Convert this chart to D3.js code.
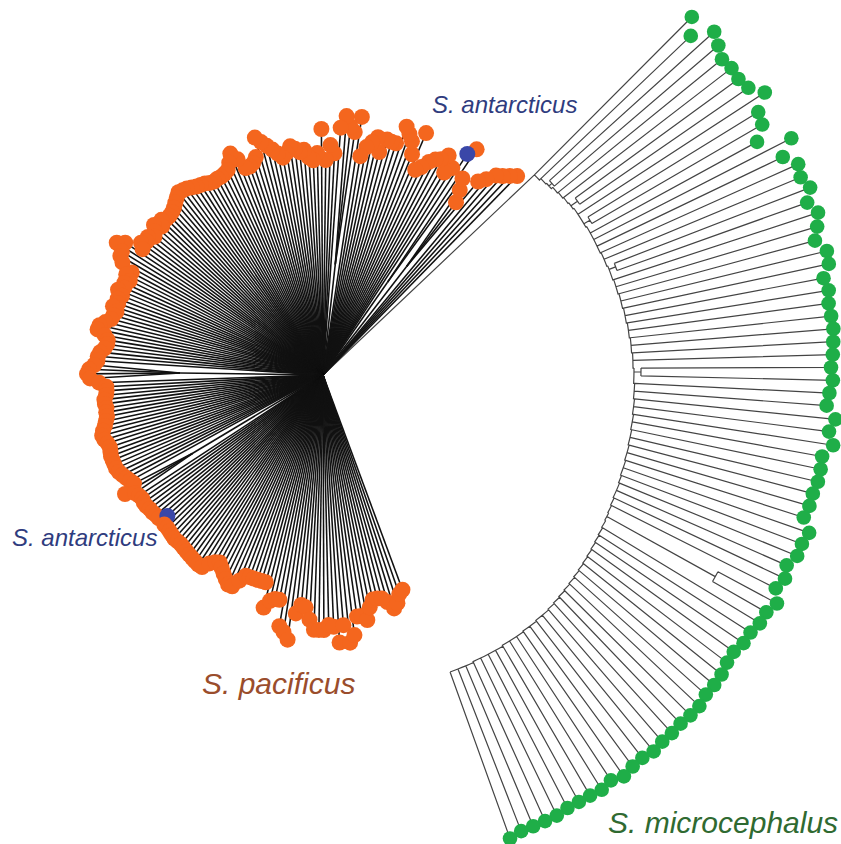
<!DOCTYPE html>
<html>
<head>
<meta charset="utf-8">
<script src="https://cdn.jsdelivr.net/npm/d3@7"></script>
<style>
  body { margin: 0; background: #fff; }
  text { font-family: "Liberation Sans", Arial, sans-serif; font-style: italic; }
</style>
</head>
<body>
<div id="chart"></div>
<script>
// orange clade (S. pacificus + 2 S. antarcticus): tip distance from the fan node, tips in angular order
const orangeTipR = [
  278, 273, 268, 264, 255, 248, 218, 230, 241, 273,
  264, 244, 236, 253, 246, 243, 238, 230, 225, 263,
  238, 250, 256, 262, 243, 243, 244, 230, 244, 238,
  232, 222, 261, 245, 250, 260, 248, 222, 230, 215,
  246, 222, 215, 218, 226, 224, 228, 231, 225, 221,
  226, 231, 236, 241, 247, 228, 223, 221, 221, 232,
  240, 232, 226, 224, 223, 223, 222, 223, 225, 226,
  227, 229, 231, 232, 233, 230, 227, 224, 222, 221,
  221, 224, 219, 226, 221, 218, 223, 221, 225, 220,
  238, 245, 236, 235, 230, 217, 221, 215, 219, 217,
  222, 216, 219, 217, 221, 216, 218, 219, 224, 229,
  230, 222, 218, 218, 220, 224, 226, 226, 229, 234,
  236, 233, 224, 217, 217, 218, 220, 220, 219, 220,
  220, 222, 224, 227, 229, 228, 226, 225, 226, 227,
  227, 227, 227, 226, 224, 222, 220, 218, 231, 222,
  220, 219, 220, 220, 219, 219, 218, 218, 210, 218,
  218, 219, 220, 221, 221, 221, 222, 223, 224, 225,
  226, 227, 227, 220, 216, 214, 218, 222, 226, 230,
  230, 222, 215, 215, 215, 215, 215, 215, 240, 232,
  229, 229, 255, 260, 267, 240, 231, 233, 245, 255,
  255, 255, 250, 252, 268, 251, 269, 262, 244, 244,
  249, 237, 230, 230, 231, 236, 244, 240, 232, 229
];
// tips of the orange fan that are S. antarcticus (blue)
const orangeBlueTips = [10, 158];
// small nested clades inside the fan: [first tip, tip count, node distance]
const orangeClades = [[5, 3, 137], [8, 2, 113], [33, 3, 111], [118, 4, 143], [147, 3, 152]];

// green clade (S. microcephalus): tip distance and backbone node distance
const greenTipR = [
  497, 483, 503, 497, 491, 493, 492, 495, 506, 490,
  487, 474, 506, 490, 501, 498, 503, 495, 502, 497,
  491, 500, 499, 491, 494, 492, 493, 494, 493, 492,
  490, 492, 489, 487, 497, 492, 498, 489, 490, 490,
  488, 488, 486, 496, 493, 493, 487, 491, 487, 495,
  490, 490, 487, 487, 484, 485, 488, 489, 489, 492,
  492, 491, 492, 492, 494, 492, 493, 496, 492, 495,
  494, 494, 494, 496, 496, 496, 496, 499
];
const greenNodeR = [
  274, 276, 277, 279, 280, 281, 282, 283, 283, 283,
  284, 284, 284, 284, 285, 285, 286, 286, 287, 287,
  288, 288, 289, 289, 290, 290, 291, 291, 292, 292,
  293, 293, 294, 294, 295, 295, 296, 296, 297, 297,
  298, 298, 299, 299, 300, 301, 301, 302, 303, 304,
  305, 306, 307, 308, 309, 310, 311, 312, 313, 314,
  315, 316, 317, 318, 318, 319, 319, 320, 320, 320,
  321, 321, 321, 321, 322, 322, 322, 322
];
// pairs of green tips joined above the backbone: [first tip, node distance]
const greenPairs = [[2, 281], [6, 290], [9, 290], [16, 293], [30, 300], [49, 428]];

const labels = [
  { text: "S. antarcticus", x: 432, y: 113, size: 24, color: "#2f3c7e" },
  { text: "S. antarcticus", x: 12, y: 546, size: 24, color: "#2f3c7e" },
  { text: "S. pacificus", x: 202, y: 694, size: 30, color: "#9a4d2c" },
  { text: "S. microcephalus", x: 608, y: 833, size: 30, color: "#2f6a31" }
];

const width = 841;
const height = 844;
const orangeCenter = [323, 375];
const greenCenter = [341, 369];
const deg = Math.PI / 180;

const svg = d3.select("#chart")
  .append("svg")
  .attr("width", width)
  .attr("height", height);

const rScale = d3.scaleLinear().domain([0, 500]).range([0, 500]);
const orangeAngle = d3.scaleLinear()
  .domain([0, orangeTipR.length - 1])
  .range([-45.7, -290.3]);
const greenAngle = d3.scaleLinear()
  .domain([0, greenTipR.length - 1])
  .range([-45.1, 70.2]);

function polar(c, angle, r) {
  const p = d3.pointRadial((angle + 90) * deg, rScale(r));
  return [c[0] + p[0], c[1] + p[1]];
}

// ---- orange fan
const orangeSegs = [];
const cladeNode = new Map();
orangeClades.forEach(([start, count, nodeR]) => {
  const mid = d3.mean(d3.range(start, start + count), orangeAngle);
  const node = polar(orangeCenter, mid, nodeR);
  d3.range(start, start + count).forEach(k => cladeNode.set(k, node));
  orangeSegs.push([orangeCenter, node]);
});
const orangeTips = orangeTipR.map((r, k) => ({
  k,
  pos: polar(orangeCenter, orangeAngle(k), r),
  blue: orangeBlueTips.includes(k)
}));
orangeTips.forEach(t => orangeSegs.push([cladeNode.get(t.k) || orangeCenter, t.pos]));

// ---- green ladder
const greenRoot = polar(greenCenter, greenAngle(0), greenNodeR[0]);
const gp = d3.path();
gp.moveTo(orangeCenter[0], orangeCenter[1]);
gp.lineTo(greenRoot[0], greenRoot[1]);
for (let i = 0; i < greenNodeR.length - 1; i++) {
  const s = polar(greenCenter, greenAngle(i), greenNodeR[i]);
  gp.moveTo(s[0], s[1]);
  gp.arc(greenCenter[0], greenCenter[1], rScale(greenNodeR[i]),
    greenAngle(i) * deg, greenAngle(i + 1) * deg);
  const e = polar(greenCenter, greenAngle(i + 1), greenNodeR[i + 1]);
  gp.lineTo(e[0], e[1]);
}
const inPair = new Map();
greenPairs.forEach(([i, nodeR]) => {
  const mid = (greenAngle(i) + greenAngle(i + 1)) / 2;
  const a = polar(greenCenter, mid, greenNodeR[i]);
  const b = polar(greenCenter, mid, nodeR);
  gp.moveTo(a[0], a[1]);
  gp.lineTo(b[0], b[1]);
  const s = polar(greenCenter, greenAngle(i), nodeR);
  gp.moveTo(s[0], s[1]);
  gp.arc(greenCenter[0], greenCenter[1], rScale(nodeR), greenAngle(i) * deg, greenAngle(i + 1) * deg);
  inPair.set(i, nodeR);
  inPair.set(i + 1, nodeR);
});
const greenTips = greenTipR.map((r, i) => polar(greenCenter, greenAngle(i), r));
greenTipR.forEach((r, i) => {
  const from = polar(greenCenter, greenAngle(i), inPair.has(i) ? inPair.get(i) : greenNodeR[i]);
  gp.moveTo(from[0], from[1]);
  gp.lineTo(greenTips[i][0], greenTips[i][1]);
});

svg.append("path")
  .attr("d", gp.toString())
  .attr("fill", "none")
  .attr("stroke", "#444")
  .attr("stroke-width", 1.2);

svg.append("g")
  .selectAll("line")
  .data(orangeSegs)
  .join("line")
  .attr("x1", d => d[0][0])
  .attr("y1", d => d[0][1])
  .attr("x2", d => d[1][0])
  .attr("y2", d => d[1][1])
  .attr("stroke", "#111")
  .attr("stroke-width", 1.55);

svg.append("g")
  .selectAll("circle")
  .data(greenTips)
  .join("circle")
  .attr("cx", d => d[0])
  .attr("cy", d => d[1])
  .attr("r", 7.3)
  .attr("fill", "#1fae48");

svg.append("g")
  .selectAll("circle")
  .data(orangeTips)
  .join("circle")
  .attr("cx", d => d.pos[0])
  .attr("cy", d => d.pos[1])
  .attr("r", 8)
  .attr("fill", d => d.blue ? "#3a47a8" : "#f4661e");

svg.append("g")
  .selectAll("text")
  .data(labels)
  .join("text")
  .attr("x", d => d.x)
  .attr("y", d => d.y)
  .attr("font-size", d => d.size)
  .attr("fill", d => d.color)
  .text(d => d.text);
</script>
</body>
</html>
